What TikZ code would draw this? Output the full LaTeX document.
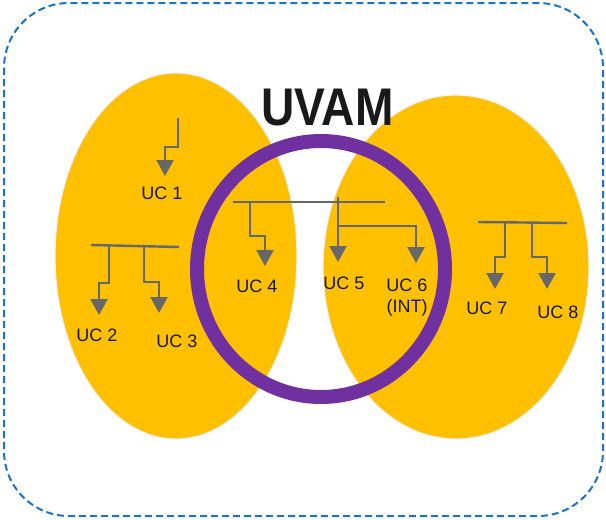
\documentclass[tikz,border=0pt]{standalone}
\usepackage{fontspec}
\setmainfont{Liberation Sans}
\usepackage{graphicx}
\usetikzlibrary{arrows.meta}
\definecolor{ucyellow}{HTML}{FFC000}
\definecolor{ucpurple}{HTML}{7030A0}
\definecolor{ucgray}{HTML}{676767}
\definecolor{ucblue}{HTML}{1B73C6}
\tikzset{
    bus/.style={ucgray,line width=2.4pt},
    feed/.style={ucgray,line width=2.4pt,-{Triangle[width=17pt,length=16pt]}},
    uclabel/.style={font=\fontsize{18}{21}\selectfont,text=black!90,inner sep=0pt,align=center},
    region/.style={fill=ucyellow,draw=black!6,line width=1.2pt},
}

\begin{document}
\begin{tikzpicture}[x=1pt,y=-1pt]
            \useasboundingbox (0,0) rectangle (606,520);
            \draw[ucblue,line width=2pt,dash pattern=on 7pt off 4pt,rounded corners=65pt] (4,3) rectangle (603,516);
            \draw[region] (176,256) ellipse[x radius=121,y radius=183];
            \draw[region] (456,267) ellipse[x radius=133,y radius=172];
            \draw[ucpurple,line width=14pt] (321,269) ellipse[x radius=124,y radius=128];
            \node[font=\bfseries\fontsize{53}{53}\selectfont,text=black!90,inner sep=0pt] (uvam) at (327.5,108) {\scalebox{0.87}[1]{UVAM}};
            \node[uclabel] (uc1) at (162,193) {UC 1};
            \node[uclabel] (uc2) at (97,335) {UC 2};
            \node[uclabel] (uc3) at (177,341) {UC 3};
            \node[uclabel] (uc4) at (257,286) {UC 4};
            \node[uclabel] (uc5) at (344,283) {UC 5};
            \node[uclabel] (uc6) at (407,298) {UC 6\\(INT)};
            \node[uclabel] (uc7) at (487,308) {UC 7};
            \node[uclabel] (uc8) at (558,312) {UC 8};
            \coordinate (tip1) at (165,176);
            \coordinate (tip2) at (99,315);
            \coordinate (tip3) at (159,313);
            \coordinate (tip4) at (265,266);
            \coordinate (tip5) at (338,262);
            \coordinate (tip6) at (416,263);
            \coordinate (tip7) at (495,289);
            \coordinate (tip8) at (547,289);
            \draw[bus] (91,245) -- (179,247);
            \draw[bus] (233,202) -- (385,202);
            \draw[bus] (478,222) -- (567,223);
            \draw[feed] (178,118) -- (178,147) -| (tip1);
            \draw[feed] (109,246) -- (109,283) -| (tip2);
            \draw[feed] (144,246) -- (144,282) -| (tip3);
            \draw[feed] (250,202) -- (250,236) -| (tip4);
            \draw[feed] (338,197) -- (tip5);
            \draw[feed] (338,226) -| (tip6);
            \draw[feed] (505,222) -- (505,257) -| (tip7);
            \draw[feed] (532,222) -- (532,257) -| (tip8);
        \end{tikzpicture}
\end{document}
